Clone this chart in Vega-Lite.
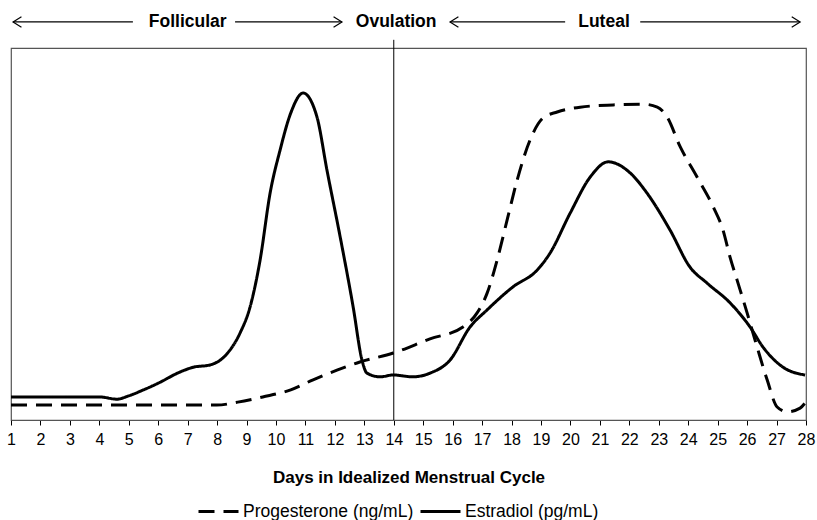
{
  "$schema": "https://vega.github.io/schema/vega-lite/v6.json",
  "width": 795,
  "height": 372,
  "autosize": {"type": "none"},
  "padding": {"left": 11, "top": 48, "right": 11, "bottom": 100},
  "background": "white",
  "config": {
    "font": "Liberation Sans",
    "view": {"stroke": "#555555", "strokeWidth": 1.2},
    "axis": {"labelFont": "Liberation Sans", "titleFont": "Liberation Sans"},
    "axisX": {
      "labelOverlap": false, "labelFlush": false, "labelFontSize": 16, "labelColor": "#000000", "labelPadding": 6,
      "tickSize": 5, "tickColor": "#000000", "domainColor": "#555555", "grid": false,
      "titleFontSize": 17, "titleFontWeight": "bold", "titleColor": "#000000", "titlePadding": 22
    },
    "legend": {"labelFont": "Liberation Sans", "padding": 0}
  },
  "datasets": {
    "hormones": [
      {"day": 1, "value": 4.0, "series": "Progesterone (ng/mL)"},
      {"day": 3, "value": 4.0, "series": "Progesterone (ng/mL)"},
      {"day": 5, "value": 4.0, "series": "Progesterone (ng/mL)"},
      {"day": 7, "value": 4.0, "series": "Progesterone (ng/mL)"},
      {"day": 7.99, "value": 4.0, "series": "Progesterone (ng/mL)"},
      {"day": 8.7, "value": 4.8, "series": "Progesterone (ng/mL)"},
      {"day": 9.55, "value": 6.2, "series": "Progesterone (ng/mL)"},
      {"day": 10.5, "value": 8.1, "series": "Progesterone (ng/mL)"},
      {"day": 11.26, "value": 10.8, "series": "Progesterone (ng/mL)"},
      {"day": 12.07, "value": 13.4, "series": "Progesterone (ng/mL)"},
      {"day": 12.85, "value": 15.6, "series": "Progesterone (ng/mL)"},
      {"day": 13.98, "value": 18.0, "series": "Progesterone (ng/mL)"},
      {"day": 15.23, "value": 21.8, "series": "Progesterone (ng/mL)"},
      {"day": 16.35, "value": 25.0, "series": "Progesterone (ng/mL)"},
      {"day": 16.83, "value": 28.8, "series": "Progesterone (ng/mL)"},
      {"day": 17.17, "value": 34.1, "series": "Progesterone (ng/mL)"},
      {"day": 17.51, "value": 43.0, "series": "Progesterone (ng/mL)"},
      {"day": 17.85, "value": 53.8, "series": "Progesterone (ng/mL)"},
      {"day": 18.19, "value": 64.5, "series": "Progesterone (ng/mL)"},
      {"day": 18.63, "value": 75.3, "series": "Progesterone (ng/mL)"},
      {"day": 19.07, "value": 81.2, "series": "Progesterone (ng/mL)"},
      {"day": 19.55, "value": 82.8, "series": "Progesterone (ng/mL)"},
      {"day": 20.33, "value": 84.1, "series": "Progesterone (ng/mL)"},
      {"day": 21.45, "value": 84.7, "series": "Progesterone (ng/mL)"},
      {"day": 22.47, "value": 84.9, "series": "Progesterone (ng/mL)"},
      {"day": 22.95, "value": 84.1, "series": "Progesterone (ng/mL)"},
      {"day": 23.28, "value": 81.5, "series": "Progesterone (ng/mL)"},
      {"day": 23.73, "value": 73.4, "series": "Progesterone (ng/mL)"},
      {"day": 24.3, "value": 65.3, "series": "Progesterone (ng/mL)"},
      {"day": 24.85, "value": 57.3, "series": "Progesterone (ng/mL)"},
      {"day": 25.18, "value": 51.1, "series": "Progesterone (ng/mL)"},
      {"day": 25.42, "value": 43.8, "series": "Progesterone (ng/mL)"},
      {"day": 25.66, "value": 37.6, "series": "Progesterone (ng/mL)"},
      {"day": 26.0, "value": 28.8, "series": "Progesterone (ng/mL)"},
      {"day": 26.34, "value": 19.6, "series": "Progesterone (ng/mL)"},
      {"day": 26.68, "value": 10.8, "series": "Progesterone (ng/mL)"},
      {"day": 27.02, "value": 3.5, "series": "Progesterone (ng/mL)"},
      {"day": 27.36, "value": 2.2, "series": "Progesterone (ng/mL)"},
      {"day": 27.8, "value": 3.2, "series": "Progesterone (ng/mL)"},
      {"day": 27.97, "value": 4.6, "series": "Progesterone (ng/mL)"},
      {"day": 1, "value": 6.2, "series": "Estradiol (pg/mL)"},
      {"day": 2, "value": 6.2, "series": "Estradiol (pg/mL)"},
      {"day": 3, "value": 6.2, "series": "Estradiol (pg/mL)"},
      {"day": 4, "value": 6.2, "series": "Estradiol (pg/mL)"},
      {"day": 4.6, "value": 5.6, "series": "Estradiol (pg/mL)"},
      {"day": 5.0, "value": 6.5, "series": "Estradiol (pg/mL)"},
      {"day": 5.5, "value": 8.1, "series": "Estradiol (pg/mL)"},
      {"day": 6.0, "value": 9.9, "series": "Estradiol (pg/mL)"},
      {"day": 6.74, "value": 12.9, "series": "Estradiol (pg/mL)"},
      {"day": 7.2, "value": 14.2, "series": "Estradiol (pg/mL)"},
      {"day": 7.76, "value": 14.8, "series": "Estradiol (pg/mL)"},
      {"day": 8.3, "value": 17.5, "series": "Estradiol (pg/mL)"},
      {"day": 8.78, "value": 23.4, "series": "Estradiol (pg/mL)"},
      {"day": 9.12, "value": 30.4, "series": "Estradiol (pg/mL)"},
      {"day": 9.46, "value": 43.0, "series": "Estradiol (pg/mL)"},
      {"day": 9.8, "value": 61.0, "series": "Estradiol (pg/mL)"},
      {"day": 10.14, "value": 72.6, "series": "Estradiol (pg/mL)"},
      {"day": 10.5, "value": 82.5, "series": "Estradiol (pg/mL)"},
      {"day": 10.92, "value": 87.9, "series": "Estradiol (pg/mL)"},
      {"day": 11.39, "value": 81.5, "series": "Estradiol (pg/mL)"},
      {"day": 11.73, "value": 67.2, "series": "Estradiol (pg/mL)"},
      {"day": 12.18, "value": 49.2, "series": "Estradiol (pg/mL)"},
      {"day": 12.62, "value": 30.4, "series": "Estradiol (pg/mL)"},
      {"day": 12.92, "value": 16.1, "series": "Estradiol (pg/mL)"},
      {"day": 13.09, "value": 12.6, "series": "Estradiol (pg/mL)"},
      {"day": 13.53, "value": 11.6, "series": "Estradiol (pg/mL)"},
      {"day": 13.98, "value": 12.1, "series": "Estradiol (pg/mL)"},
      {"day": 14.65, "value": 11.6, "series": "Estradiol (pg/mL)"},
      {"day": 15.23, "value": 12.6, "series": "Estradiol (pg/mL)"},
      {"day": 15.91, "value": 16.1, "series": "Estradiol (pg/mL)"},
      {"day": 16.59, "value": 25.0, "series": "Estradiol (pg/mL)"},
      {"day": 17.17, "value": 29.6, "series": "Estradiol (pg/mL)"},
      {"day": 18.05, "value": 35.8, "series": "Estradiol (pg/mL)"},
      {"day": 18.87, "value": 40.3, "series": "Estradiol (pg/mL)"},
      {"day": 19.31, "value": 44.9, "series": "Estradiol (pg/mL)"},
      {"day": 19.99, "value": 55.6, "series": "Estradiol (pg/mL)"},
      {"day": 20.67, "value": 65.3, "series": "Estradiol (pg/mL)"},
      {"day": 21.28, "value": 69.4, "series": "Estradiol (pg/mL)"},
      {"day": 22.03, "value": 66.4, "series": "Estradiol (pg/mL)"},
      {"day": 22.6, "value": 61.0, "series": "Estradiol (pg/mL)"},
      {"day": 23.38, "value": 51.1, "series": "Estradiol (pg/mL)"},
      {"day": 24.06, "value": 41.1, "series": "Estradiol (pg/mL)"},
      {"day": 24.64, "value": 36.8, "series": "Estradiol (pg/mL)"},
      {"day": 25.42, "value": 31.5, "series": "Estradiol (pg/mL)"},
      {"day": 26.1, "value": 25.0, "series": "Estradiol (pg/mL)"},
      {"day": 26.54, "value": 19.6, "series": "Estradiol (pg/mL)"},
      {"day": 27.22, "value": 14.2, "series": "Estradiol (pg/mL)"},
      {"day": 27.97, "value": 12.1, "series": "Estradiol (pg/mL)"}
    ],
    "phases": [
      {"label": "Follicular", "day": 7.0, "level": 107},
      {"label": "Ovulation", "day": 14.08, "level": 107},
      {"label": "Luteal", "day": 21.14, "level": 107}
    ],
    "arrows": [
      {"day": 1.07, "end": 5.14, "level": 107},
      {"day": 8.61, "end": 12.24, "level": 107},
      {"day": 15.91, "end": 19.82, "level": 107},
      {"day": 22.37, "end": 27.8, "level": 107}
    ],
    "heads": [
      {"day": 1.07, "dir": "left", "level": 107},
      {"day": 12.24, "dir": "right", "level": 107},
      {"day": 15.91, "dir": "left", "level": 107},
      {"day": 27.8, "dir": "right", "level": 107}
    ],
    "ovulation": [
      {"day": 14, "top": 102.2, "bottom": 0}
    ]
  },
  "encoding": {
    "x": {"field": "day", "type": "quantitative",
      "scale": {"domain": [1, 28], "nice": false, "zero": false},
      "axis": {
        "values": [1,2,3,4,5,6,7,8,9,10,11,12,13,14,15,16,17,18,19,20,21,22,23,24,25,26,27,28],
        "labelOverlap": false,
        "title": "Days in Idealized Menstrual Cycle"
      }}
  },
  "layer": [
    {
      "data": {"name": "ovulation"},
      "mark": {"type": "rule", "color": "#000000", "strokeWidth": 1},
      "encoding": {
        "y": {"field": "top", "type": "quantitative", "scale": {"domain": [0, 100], "nice": false, "zero": false}, "axis": null},
        "y2": {"field": "bottom"}
      }
    },
    {
      "data": {"name": "hormones"},
      "mark": {"type": "line", "interpolate": "monotone", "strokeWidth": 3, "color": "#000000"},
      "encoding": {
        "y": {"field": "value", "type": "quantitative"},
        "detail": {"field": "series", "type": "nominal"},
        "strokeDash": {
          "field": "series", "type": "nominal",
          "scale": {"domain": ["Progesterone (ng/mL)", "Estradiol (pg/mL)"], "range": [[16, 9], [1, 0]]},
          "legend": {
            "title": null, "orient": "none", "legendX": 186, "legendY": 442, "direction": "horizontal",
            "symbolType": "stroke", "symbolSize": 1600, "symbolStrokeWidth": 3, "symbolStrokeColor": "#000000",
            "labelFontSize": 17.5, "labelColor": "#000000", "labelOffset": 3, "labelLimit": 400,
            "columnPadding": 0, "symbolOffset": 0, "padding": 0
          }
        }
      }
    },
    {
      "data": {"name": "arrows"},
      "mark": {"type": "rule", "color": "#000000", "strokeWidth": 1.2},
      "encoding": {
        "x2": {"field": "end"},
        "y": {"field": "level", "type": "quantitative"}
      }
    },
    {
      "data": {"name": "heads"},
      "mark": {"type": "point", "filled": false, "stroke": "#000000", "strokeWidth": 1.2, "size": 110, "opacity": 1},
      "encoding": {
        "y": {"field": "level", "type": "quantitative"},
        "shape": {"field": "dir", "type": "nominal",
          "scale": {"domain": ["left", "right"], "range": ["M 1.6 -1 L 0 0 L 1.6 1", "M -1.6 -1 L 0 0 L -1.6 1"]},
          "legend": null}
      }
    },
    {
      "data": {"name": "phases"},
      "mark": {"type": "text", "fontSize": 17.5, "fontWeight": "bold", "color": "#000000", "align": "center", "baseline": "middle"},
      "encoding": {
        "y": {"field": "level", "type": "quantitative"},
        "text": {"field": "label"}
      }
    }
  ]
}
